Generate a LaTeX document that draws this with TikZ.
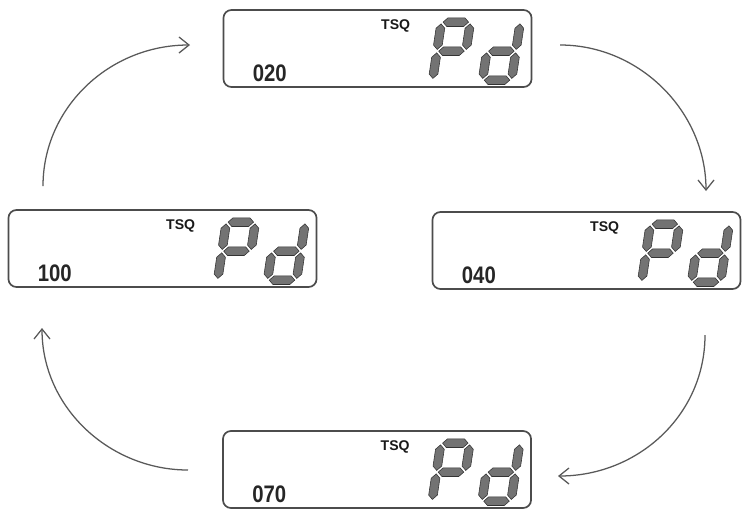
\documentclass[tikz,border=0pt]{standalone}
\usepackage{fontspec}
\setmainfont{Liberation Sans}
\usepackage{graphicx}
\usetikzlibrary{calc,arrows.meta}

% one segment of the slanted readout
\newcommand{\segh}[1]{\filldraw[lcdseg,shift={(0,#1)}] (0.06,0) -- (0.21,0.15) -- (0.79,0.15) -- (0.94,0) -- (0.79,-0.15) -- (0.21,-0.15) -- cycle;}
\newcommand{\segv}[2]{\filldraw[lcdseg,shift={(#1,#2)}] (0,0.06) -- (0.15,0.21) -- (0.15,0.79) -- (0,0.94) -- (-0.15,0.79) -- (-0.15,0.21) -- cycle;}
% the "Pd" readout inside a box
\newcommand{\pdsign}[1]{%
  \begin{scope}[shift={($(#1.north west)+(210,71)$)},x=0.725cm,y=0.725cm,xslant=0.15]
    \segh{2} \segh{1} \segv{0}{1} \segv{1}{1} \segv{0}{0} % P
    \begin{scope}[shift={(1.72,0)}]
      \segh{1} \segh{0} \segv{1}{1} \segv{1}{0} \segv{0}{0} % d
    \end{scope}
  \end{scope}}
\newcommand{\lcdnum}[1]{\scalebox{0.85}[1]{#1}}

\begin{document}
\begin{tikzpicture}[x=0.025cm,y=-0.025cm,
    lcd/.style={draw=black!70,line width=1.2pt,rounded corners=2mm,minimum width=7.7cm,minimum height=1.925cm,inner sep=0pt},
    lcdseg/.style={fill=black!55,draw=black!80,line width=0.4pt},
    num/.style={anchor=base west,inner sep=0pt,text=black!85,font=\fontsize{17pt}{17pt}\selectfont\bfseries},
    tag/.style={inner sep=0pt,text=black!90,font=\fontsize{10pt}{10pt}\selectfont\bfseries},
    cyc/.style={draw=black!65,line width=0.9pt,-{Straight Barb[length=2.5mm,width=4mm]}}]
  \fill[white] (0,0) rectangle (742,508);
  \useasboundingbox (0,0) rectangle (742,508);

  \node[lcd](r020) at (377.5,48.5) {};
  \node[num](n020) at ($(r020.north west)+(30,72)$) {\lcdnum{020}};
  \node[tag](t020) at ($(r020.north west)+(173,17)$) {TSQ};
  \pdsign{r020}

  \node[lcd](r040) at (586.5,250.5) {};
  \node[num](n040) at ($(r040.north west)+(30,72)$) {\lcdnum{040}};
  \node[tag](t040) at ($(r040.north west)+(173,17)$) {TSQ};
  \pdsign{r040}

  \node[lcd](r070) at (377,469.5) {};
  \node[num](n070) at ($(r070.north west)+(30,72)$) {\lcdnum{070}};
  \node[tag](t070) at ($(r070.north west)+(173,17)$) {TSQ};
  \pdsign{r070}

  \node[lcd](r100) at (162.5,248.5) {};
  \node[num](n100) at ($(r100.north west)+(30,72)$) {\lcdnum{100}};
  \node[tag](t100) at ($(r100.north west)+(173,17)$) {TSQ};
  \pdsign{r100}

  \coordinate (a1s) at (43,186);  \coordinate (a1e) at (190,45);
  \coordinate (a2s) at (560,45);  \coordinate (a2e) at (706,191);
  \coordinate (a3s) at (705,335); \coordinate (a3e) at (558,476);
  \coordinate (a4s) at (188,470); \coordinate (a4e) at (42,328);

  \draw[cyc] (a1s) .. controls (43,108) and (109,45) .. (a1e);
  \draw[cyc] (a2s) .. controls (640,45) and (706,112) .. (a2e);
  \draw[cyc] (a3s) .. controls (705,415) and (638,476) .. (a3e);
  \draw[cyc] (a4s) .. controls (110,470) and (42,408) .. (a4e);
\end{tikzpicture}
\end{document}
